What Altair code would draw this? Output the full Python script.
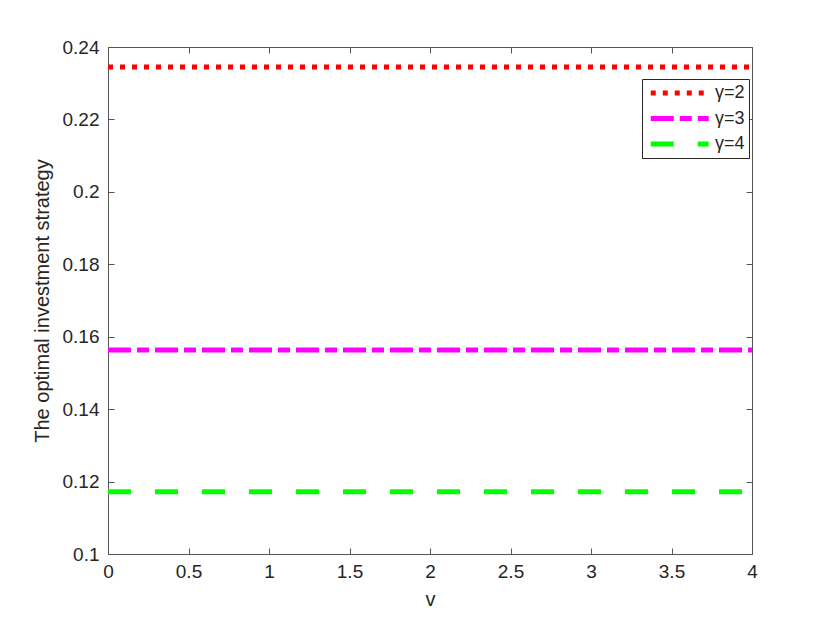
import altair as alt
import pandas as pd

# ---- data ----
v_range = [0, 4]
series = ["γ=2", "γ=3", "γ=4"]
strategy = [0.2345, 0.1563, 0.1172]
x_ticks = [0, 0.5, 1, 1.5, 2, 2.5, 3, 3.5, 4]
y_ticks = [0.1, 0.12, 0.14, 0.16, 0.18, 0.2, 0.22, 0.24]

colors = ["#FF0000", "#FF00FF", "#00FF00"]
dashes = [[5, 7], [23, 6, 12, 6], [23, 24]]

rows = [{"v": x, "series": s, "value": val}
        for s, val in zip(series, strategy) for x in v_range]
df = pd.DataFrame(rows)

W, H = 644, 507
FONT = "Liberation Sans"
TXT = "#262626"
AX = "#555555"

xs = alt.Scale(domain=[0, 4], nice=False, zero=False)
ys = alt.Scale(domain=[0.1, 0.24], nice=False, zero=False)

legend = alt.Legend(
    orient="none", legendX=534, legendY=32, title=None,
    symbolType="M-1,0H7", symbolSize=210, symbolStrokeWidth=5,
    symbolOffset=2, labelOffset=47, rowPadding=5.5,
    labelFontSize=18, labelFont=FONT, labelColor=TXT,
    fillColor="white", strokeColor=TXT, padding=4,
)

base = alt.Chart(df)

lines = base.mark_line(strokeWidth=5, strokeCap="butt").encode(
    x=alt.X("v:Q", scale=xs, axis=alt.Axis(
        values=x_ticks, format="~g", ticks=False, domain=False, grid=False,
        labelFlush=False, title="v", labelPadding=8, titlePadding=8)),
    y=alt.Y("value:Q", scale=ys, axis=alt.Axis(
        values=y_ticks, format="~g", ticks=False, domain=False, grid=False,
        title="The optimal investment strategy", labelPadding=9, titlePadding=10)),
    color=alt.Color("series:N", scale=alt.Scale(domain=series, range=colors), legend=legend),
    strokeDash=alt.StrokeDash("series:N", scale=alt.Scale(domain=series, range=dashes), legend=legend),
)

tick_axis = dict(labels=False, domain=False, grid=False, tickSize=6, title=None,
                 tickColor=AX, tickWidth=1)

ticks_a = base.mark_line(opacity=0).encode(
    x=alt.X("v:Q", scale=xs, axis=alt.Axis(orient="top", offset=-H, values=x_ticks, **tick_axis)),
    y=alt.Y("value:Q", scale=ys, axis=alt.Axis(orient="right", offset=-W, values=y_ticks, **tick_axis)),
)
ticks_b = base.mark_line(opacity=0).encode(
    x=alt.X("v:Q", scale=xs, axis=alt.Axis(orient="bottom", offset=-H, values=x_ticks, **tick_axis)),
    y=alt.Y("value:Q", scale=ys, axis=alt.Axis(orient="left", offset=-W, values=y_ticks, **tick_axis)),
)

chart = alt.layer(lines, ticks_a, ticks_b).resolve_axis(
    x="independent", y="independent"
).properties(
    width=W, height=H,
    autosize=alt.AutoSizeParams(type="none"),
    padding={"left": 100, "top": 39, "right": 60, "bottom": 60},
).configure_view(
    stroke=AX, strokeWidth=1
).configure_axis(
    labelFont=FONT, labelFontSize=19, labelColor=TXT,
    titleFont=FONT, titleFontSize=20, titleFontWeight="normal", titleColor=TXT,
)

chart.save("out.html", embed_options={"renderer": "svg", "actions": False})
